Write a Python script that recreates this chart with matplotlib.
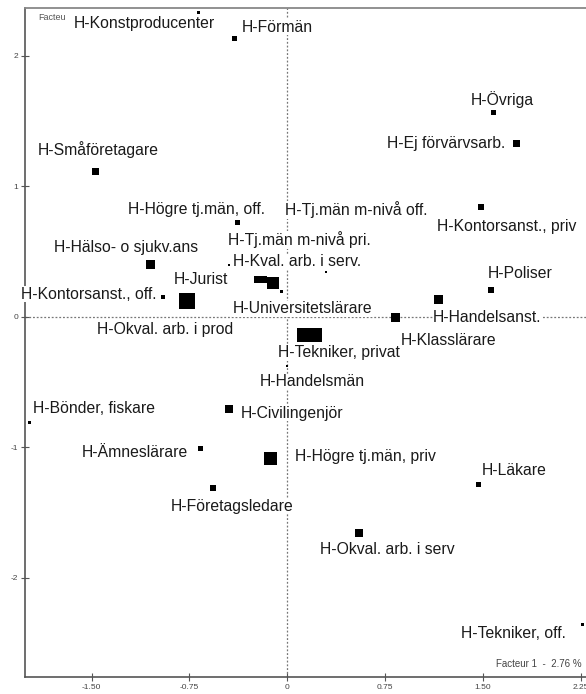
import matplotlib
matplotlib.use('Agg')
import matplotlib.pyplot as plt
import numpy as np

plt.rcParams['font.family'] = ['Liberation Sans', 'DejaVu Sans']
plt.rcParams['axes.unicode_minus'] = False

# Coordonnées des modalités (plan factoriel 1-2)
etiquettes = [
    'H-Konstproducenter', 'H-Förmän', 'H-Småföretagare', 'H-Högre tj.män, off.',
    'H-Tj.män m-nivå off.', 'H-Ej förvärvsarb.', 'H-Övriga', 'H-Kontorsanst., priv',
    'H-Tj.män m-nivå pri.', 'H-Hälso- o sjukv.ans', 'H-Kval. arb. i serv.', 'H-Jurist',
    'H-Kontorsanst., off.', 'H-Universitetslärare', 'H-Tekniker, privat', 'H-Handelsmän',
    'H-Klasslärare', 'H-Handelsanst.', 'H-Poliser', 'H-Bönder, fiskare',
    'H-Civilingenjör', 'H-Ämneslärare', 'H-Högre tj.män, priv', 'H-Företagsledare',
    'H-Läkare', 'H-Okval. arb. i serv', 'H-Tekniker, off.', 'H-Okval. arb. i prod',
    '', '',
]
facteur1 = [
    -0.677, -0.408, -1.466, -0.383,
    0.294, 1.758, 1.579, 1.482,
    -0.186, -1.052, -0.443, -0.228,
    -0.950, -0.106, 0.212, 0.000,
    0.833, 1.157, 1.559, -1.977,
    -0.449, -0.667, -0.127, -0.567,
    1.469, 0.549, 2.264, -0.769,
    -0.041, 0.128,
]
facteur2 = [
    2.328, 2.132, 1.115, 0.719,
    0.343, 1.322, 1.562, 0.841,
    0.280, 0.395, 0.395, 0.284,
    0.147, 0.257, -0.138, -0.379,
    -0.006, 0.132, 0.203, -0.811,
    -0.709, -1.015, -1.087, -1.316,
    -1.284, -1.657, -2.356, 0.119,
    0.188, -0.138,
]
# poids relatif (taille du carré)
poids = [
    3, 5, 7, 5,
    2, 7, 5, 6,
    7, 9, 2, 7,
    4, 12, 14, 2,
    9, 9, 6, 3,
    8, 5, 13, 6,
    5, 8, 3, 16,
    3, 14,
]

xticks = [-1.5, -0.75, 0, 0.75, 1.5, 2.25]
xticklabels = ['-1.50', '-0.75', '0', '0.75', '1.50', '2.25']
yticks = [-2, -1, 0, 1, 2]

# décalage des étiquettes (pixels) par rapport au point
decalages = [
    (-55, -11), (43, 11), (2, 21), (-41, 13),
    (31, 62), (-71, 0), (9, 13), (26, -20),
    (36, 40), (-24, 17), (68, 3), (-57, 0),
    (-75, 3), (29, -26), (24, -18), (25, -16),
    (53, -23), (49, -18), (29, 17), (65, 14),
    (63, -4), (-65, -4), (95, 2), (19, -18),
    (35, 14), (28, -17), (-69, -9), (-22, -29),
    (0, 0), (0, 0),
]

fig = plt.figure(figsize=(5.86, 6.94), dpi=100)
ax = fig.add_axes([25 / 586, 17 / 694, 565 / 586, 669 / 694])

ax.set_xlim(-2.01, 2.32)
ax.set_ylim(-2.762, 2.364)

ax.axhline(0, color='#777777', linestyle=(0, (1.5, 1.5)), linewidth=0.9, zorder=1)
ax.axvline(0, color='#777777', linestyle=(0, (1.5, 1.5)), linewidth=0.9, zorder=1)

taille = (np.array(poids) * 0.72) ** 2
ax.scatter(facteur1, facteur2, s=taille, marker='s', color='black',
           linewidths=0, zorder=4)

for lab, x, y, (dx, dy) in zip(etiquettes, facteur1, facteur2, decalages):
    if not lab:
        continue
    ax.annotate(lab, (x, y), xytext=(dx, dy), textcoords='offset pixels',
                ha='center', va='center', fontsize=11.3, color='#1a1a1a',
                bbox=dict(facecolor='white', edgecolor='none', pad=0.3),
                zorder=3)

ax.text(0.023, 0.986, 'Facteu', transform=ax.transAxes, fontsize=6.5,
        color='#555555', ha='left', va='center', zorder=2)
ax.text(0.985, 0.0194, 'Facteur 1  -  2.76 %', transform=ax.transAxes,
        fontsize=7, color='#444444', ha='right', va='center', zorder=2)

ax.set_xticks(xticks)
ax.set_xticklabels(xticklabels)
ax.set_yticks(yticks)
ax.tick_params(direction='inout', length=6, width=0.8, colors='#555555',
               labelsize=6, labelcolor='#444444', pad=2)

for s in ['left', 'bottom']:
    ax.spines[s].set_color('#555555')
    ax.spines[s].set_linewidth(1.2)
ax.spines['top'].set_color('#888888')
ax.spines['top'].set_linewidth(1.3)
ax.spines['right'].set_visible(False)

fig.savefig('out.png', dpi=100, facecolor='white')
